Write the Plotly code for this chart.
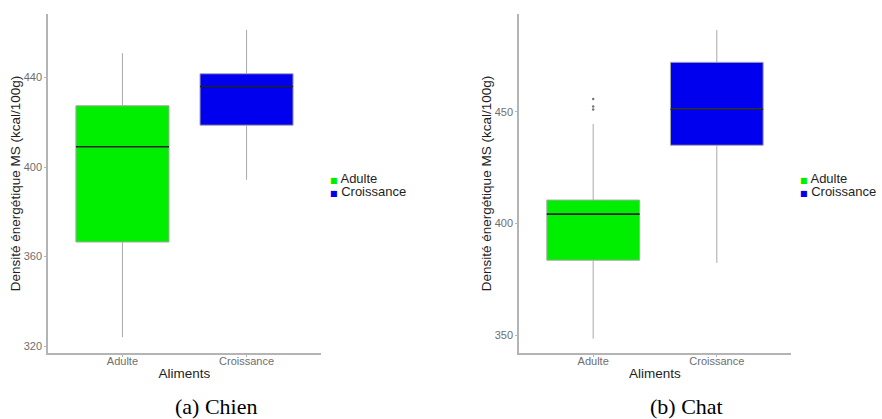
import plotly.graph_objects as go

# ---------------- data ----------------
categories = ["Adulte", "Croissance"]
colors = ["#00EE00", "#0000EE"]
positions = [1, 2]

chien_q1 = [366.5, 418.7]
chien_median = [409.1, 436.0]
chien_q3 = [427.4, 441.7]
chien_lower = [324.0, 394.3]
chien_upper = [450.9, 461.3]
chien_outliers = [[], []]

chat_q1 = [383.6, 435.0]
chat_median = [404.2, 451.1]
chat_q3 = [410.5, 472.1]
chat_lower = [348.5, 382.4]
chat_upper = [444.5, 486.6]
chat_outliers = [[455.7, 452.3, 451.0], []]

chien_ticks = [320, 360, 400, 440]
chat_ticks = [350, 400, 450]

captions = ["(a) Chien", "(b) Chat"]
x_title = "Aliments"
y_title = "Densité énergétique MS (kcal/100g)"

# ---------------- layout constants ----------------
W, H = 882, 419
BOX_W = 0.75
panels = [
    dict(q1=chien_q1, med=chien_median, q3=chien_q3, lo=chien_lower, hi=chien_upper,
         out=chien_outliers, ticks=chien_ticks, yrange=[316.9, 468.4],
         xdom=[48 / W, 321 / W], caption=captions[0], cap_x=215.5 / W,
         leg_x=329 / W, xa="x", ya="y"),
    dict(q1=chat_q1, med=chat_median, q3=chat_q3, lo=chat_lower, hi=chat_upper,
         out=chat_outliers, ticks=chat_ticks, yrange=[342.1, 493.7],
         xdom=[519 / W, 791 / W], caption=captions[1], cap_x=686.7 / W,
         leg_x=799 / W, xa="x2", ya="y2"),
]
ydom = [(H - 353) / H, (H - 14) / H]

fig = go.Figure()
annotations = []
tick_font = dict(family="Liberation Sans, Arial, sans-serif", size=11, color="#6e6e6e")
title_font = dict(family="Liberation Sans, Arial, sans-serif", size=13.5, color="#1e1e1e")

# boxes first
for p in panels:
    for i, cat in enumerate(categories):
        fig.add_trace(go.Box(
            x=[positions[i]], q1=[p["q1"][i]], median=[p["med"][i]], q3=[p["q3"][i]],
            lowerfence=[p["lo"][i]], upperfence=[p["hi"][i]],
            width=BOX_W, whiskerwidth=0, fillcolor=colors[i],
            line=dict(color="#a8a8a8", width=1), boxpoints=False,
            name=cat, showlegend=False, xaxis=p["xa"], yaxis=p["ya"], hoverinfo="skip",
        ))

# medians and outliers on top
for p in panels:
    for i, cat in enumerate(categories):
        pos = positions[i]
        fig.add_trace(go.Scatter(
            x=[pos - BOX_W / 2, pos + BOX_W / 2], y=[p["med"][i], p["med"][i]],
            mode="lines", line=dict(color="#1c261c", width=1.6),
            showlegend=False, xaxis=p["xa"], yaxis=p["ya"], hoverinfo="skip",
        ))
        if p["out"][i]:
            fig.add_trace(go.Scatter(
                x=[pos] * len(p["out"][i]), y=p["out"][i], mode="markers",
                marker=dict(color="#777777", size=2.5),
                showlegend=False, xaxis=p["xa"], yaxis=p["ya"], hoverinfo="skip",
            ))

for p_i, p in enumerate(panels):
    axis_x = dict(domain=p["xdom"], anchor=p["ya"], range=[0.4, 2.6],
                  tickmode="array", tickvals=positions, ticktext=categories,
                  showline=True, linecolor="#b4b4b4", linewidth=1.5,
                  ticks="outside", ticklen=2, tickcolor="#b4b4b4",
                  ticklabelstandoff=-5,
                  showgrid=False, zeroline=False, tickfont=tick_font,
                  title=dict(text=x_title, font=title_font, standoff=3))
    axis_y = dict(domain=ydom, anchor=p["xa"], range=p["yrange"],
                  tickmode="array", tickvals=p["ticks"],
                  showline=True, linecolor="#b4b4b4", linewidth=1.5,
                  ticks="outside", ticklen=2, tickcolor="#b4b4b4",
                  showgrid=False, zeroline=False, tickfont=tick_font,
                  title=dict(text=y_title, font=title_font, standoff=0))
    if p_i == 0:
        fig.update_layout(xaxis=axis_x, yaxis=axis_y)
    else:
        fig.update_layout(xaxis2=axis_x, yaxis2=axis_y)

    # caption
    annotations.append(dict(
        text=p["caption"], x=p["cap_x"], y=1 - 406 / H, xref="paper", yref="paper",
        xanchor="center", yanchor="middle", showarrow=False,
        font=dict(family="Liberation Serif, Times New Roman, serif", size=22, color="#000000"),
    ))
    # legend entries (colour key + label in one text)
    for i, cat in enumerate(categories):
        ycen = 1 - (178.5 + 13 * i) / H
        annotations.append(dict(
            text=(f"<span style='font-family:DejaVu Sans;font-size:8px;color:{colors[i]}'>■</span>"
                  f" {cat}"),
            x=p["leg_x"], y=ycen, xref="paper", yref="paper",
            xanchor="left", yanchor="middle", showarrow=False, borderpad=0,
            font=dict(family="Liberation Sans, Arial, sans-serif", size=13, color="#1e1e1e"),
        ))

fig.update_layout(
    width=W, height=H, margin=dict(l=0, r=0, t=0, b=0),
    paper_bgcolor="white", plot_bgcolor="white",
    showlegend=False, boxmode="overlay", annotations=annotations,
)

fig.write_html("out.html", config={"displayModeBar": False},
               post_script="document.body.style.margin='0';document.body.style.overflow='hidden';")
